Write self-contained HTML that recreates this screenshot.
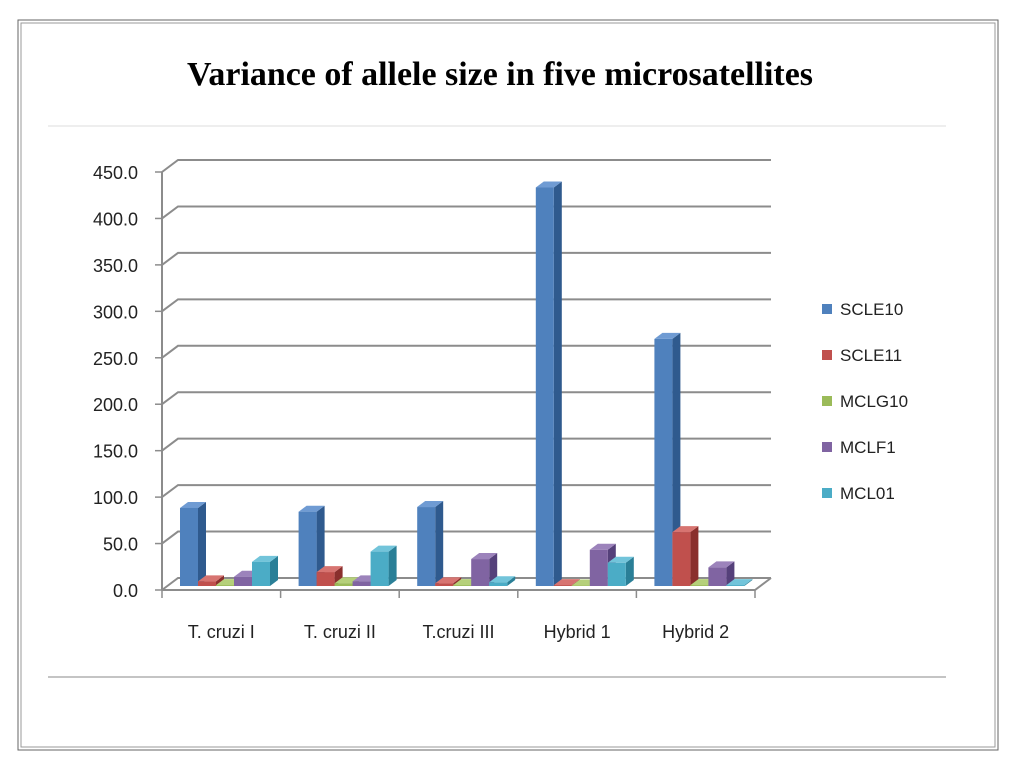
<!DOCTYPE html>
<html><head><meta charset="utf-8"><style>
body{margin:0;background:#fff;}
svg{display:block;font-family:"Liberation Sans",sans-serif;}
</style></head><body>
<svg id="c" width="1024" height="768">
<rect x="18" y="20" width="980" height="730" fill="none" stroke="#666" stroke-width="1"/>
<rect x="21" y="23" width="974" height="724" fill="none" stroke="#999" stroke-width="1"/>
<text x="500" y="85" text-anchor="middle" font-family="Liberation Serif, serif" font-weight="bold" font-size="34" textLength="626" lengthAdjust="spacingAndGlyphs">Variance of allele size in five microsatellites</text>
<line x1="48" y1="126" x2="946" y2="126" stroke="#ddd"/>
<line x1="48" y1="677" x2="946" y2="677" stroke="#888"/>
<g id="grid"></g><g id="bars"></g><g id="axes"></g><g id="legend"></g>
</svg>
<script>
const categories=["T. cruzi I","T. cruzi II","T.cruzi III","Hybrid 1","Hybrid 2"];
const seriesNames=["SCLE10","SCLE11","MCLG10","MCLF1","MCL01"];
const scle10=[84,80,85,429,266];
const scle11=[5,15,3,1,58];
const mclg10=[1,3,1,0.5,1];
const mclf1=[10,5,29,39,20];
const mcl01=[26,37,4,25,1];
const yTicks=[0,50,100,150,200,250,300,350,400,450];
const yTickLabels=["0.0","50.0","100.0","150.0","200.0","250.0","300.0","350.0","400.0","450.0"];
const series=[scle10,scle11,mclg10,mclf1,mcl01];
const colors=["#4f81bd","#c0504d","#9bbb59","#8064a2","#4bacc6"];
const sides=["#2f5a8e","#8a2f2d","#6d8a35","#55407a","#2a7f97"];
const tops=["#6f9bd3","#d77471","#b5d07a","#9c83bb","#72c4da"];
const NS="http://www.w3.org/2000/svg";
const X0=162,X1=755,Y0=590,K=418/450,DX=16,DY=-12;
const yF=v=>Y0-v*K;
const catW=(X1-X0)/categories.length;
function mk(t,a,p){const e=document.createElementNS(NS,t);for(const k in a)e.setAttribute(k,a[k]);p.appendChild(e);return e;}
const grid=document.getElementById('grid'),axes=document.getElementById('axes'),bars=document.getElementById('bars'),leg=document.getElementById('legend');
yTicks.forEach((v,i)=>{
 const y=yF(v);
 const g=mk('polyline',{points:`${X0},${y} ${X0+DX},${y+DY} ${X1+DX},${y+DY}`,fill:'none',stroke:'#8c8c8c','stroke-width':2},grid);
 
 
 const t=mk('line',{x1:X0-7,y1:y,x2:X0,y2:y,stroke:'#8c8c8c','stroke-width':1.5},axes);
 
 
 const tx=mk('text',{x:138,y:y+7,'text-anchor':'end','font-size':18,fill:'#222'},axes);
 tx.textContent=yTickLabels[i];
 
 
});
const fl=mk('polyline',{points:`${X0},${Y0} ${X1},${Y0} ${X1+DX},${Y0+DY}`,fill:'none',stroke:'#8c8c8c','stroke-width':2},axes);


const ya=mk('line',{x1:X0,y1:yF(450),x2:X0,y2:Y0,stroke:'#8c8c8c','stroke-width':2},axes);


for(let i=0;i<=categories.length;i++){
 const x=X0+i*catW;
 const t=mk('line',{x1:x,y1:Y0,x2:x,y2:Y0+8,stroke:'#8c8c8c','stroke-width':1.5},axes);
 
 
}
categories.forEach((c,i)=>{
 const tx=mk('text',{x:X0+(i+0.5)*catW,y:638,'text-anchor':'middle','font-size':18,fill:'#222'},axes);
 tx.textContent=c;
 
 
});
const BW=18,bd=8,bdy=-6,base=Y0-4;
categories.forEach((c,i)=>{
 series.forEach((s,j)=>{
  const v=s[i];const x=X0+i*catW+18+j*BW;const top=base-v*K;
  const g=mk('g',{},bars);
  
  
  mk('polygon',{points:`${x+BW},${top} ${x+BW+bd},${top+bdy} ${x+BW+bd},${base+bdy} ${x+BW},${base}`,fill:sides[j]},g);
  mk('polygon',{points:`${x},${top} ${x+bd},${top+bdy} ${x+BW+bd},${top+bdy} ${x+BW},${top}`,fill:tops[j]},g);
  mk('rect',{x:x,y:top,width:BW,height:base-top,fill:colors[j]},g);
 });
});
seriesNames.forEach((n,j)=>{
 const y=309+j*46;
 const r=mk('rect',{x:822,y:y-5,width:10,height:10,fill:colors[j]},leg);
 
 
 const t=mk('text',{x:840,y:y+6,'font-size':17,fill:'#222'},leg);
 t.textContent=n;
 
 
});
</script>
</body></html>
